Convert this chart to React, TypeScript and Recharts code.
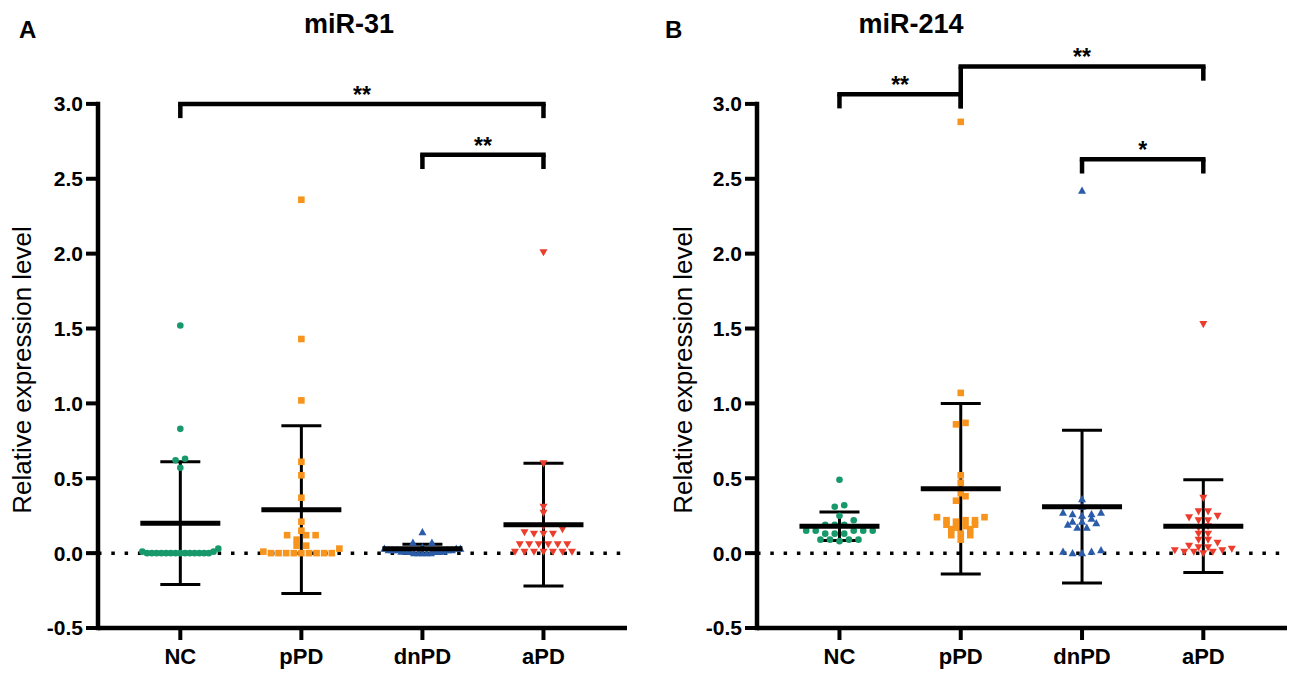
import React from 'react';
import { ScatterChart, Scatter, XAxis, YAxis, ReferenceLine, ErrorBar } from 'recharts';

const FONT = 'Liberation Sans, Arial, Helvetica, sans-serif';

const categories = ['NC', 'pPD', 'dnPD', 'aPD'];
const yTicks = [-0.5, 0, 0.5, 1, 1.5, 2, 2.5, 3];
const xTicks = [0, 1, 2, 3];
const X_DOMAIN: [number, number] = [-0.68, 3.69];
const Y_DOMAIN: [number, number] = [-0.5, 3.4];

// miR-31 (panel A)
const mir31NC = [1.52, 0.83, 0.63, 0.62, 0.57, 0.03, 0.01, 0.01, 0, 0, 0, 0, 0, 0, 0, 0, 0, 0, 0, 0, 0, 0];
const mir31pPD = [2.36, 1.43, 1.02, 0.61, 0.52, 0.37, 0.21, 0.15, 0.12, 0.12, 0.12, 0.09, 0.05, 0.05, 0.03, 0.01, 0, 0, 0, 0, 0, 0, 0, 0, 0];
const mir31dnPD = [0.14, 0.07, 0.07, 0.04, 0.03, 0.03, 0.03, 0.02, 0.02, 0.02, 0.02, 0.02, 0.01, 0.01, 0.01, 0.01, 0.01, 0.01, 0, 0, 0, 0, 0];
const mir31aPD = [2.01, 0.6, 0.31, 0.27, 0.18, 0.16, 0.14, 0.13, 0.13, 0.13, 0.06, 0.06, 0.06, 0.06, 0.06, 0.06, 0.01, 0.01, 0.01, 0.01, 0.01, 0.01, 0.01];
const mir31Mean = [0.2, 0.29, 0.03, 0.19];
const mir31SD = [0.41, 0.56, 0.03, 0.41];
const mir31Brackets = [
  { from: 0, to: 3, top: 3.0, leftEnd: 2.905, rightEnd: 2.905, label: '**' },
  { from: 2, to: 3, top: 2.66, leftEnd: 2.565, rightEnd: 2.565, label: '**' },
];

// miR-214 (panel B)
const mir214NC = [0.49, 0.32, 0.31, 0.25, 0.22, 0.19, 0.19, 0.19, 0.15, 0.15, 0.15, 0.15, 0.15, 0.13, 0.13, 0.13, 0.09, 0.09, 0.09, 0.09, 0.08];
const mir214pPD = [2.88, 1.07, 0.87, 0.86, 0.52, 0.47, 0.4, 0.38, 0.35, 0.24, 0.24, 0.22, 0.22, 0.22, 0.21, 0.19, 0.19, 0.18, 0.17, 0.16, 0.16, 0.13, 0.12, 0.12, 0.09];
const mir214dnPD = [2.42, 0.36, 0.31, 0.27, 0.27, 0.26, 0.26, 0.25, 0.23, 0.21, 0.21, 0.2, 0.19, 0.17, 0.17, 0.02, 0.01, 0.01, 0, 0];
const mir214aPD = [1.53, 0.37, 0.28, 0.28, 0.25, 0.24, 0.22, 0.22, 0.18, 0.17, 0.13, 0.13, 0.09, 0.09, 0.07, 0.05, 0.04, 0.04, 0.03, 0.02, 0.02, 0.01, 0.01, 0.01, 0];
const mir214Mean = [0.18, 0.43, 0.31, 0.18];
const mir214SD = [0.095, 0.57, 0.51, 0.31];
const mir214Brackets = [
  { from: 0, to: 1, top: 3.065, leftEnd: 2.97, rightEnd: 2.97, label: '**' },
  { from: 1, to: 3, top: 3.25, leftEnd: 2.97, rightEnd: 3.155, label: '**' },
  { from: 2, to: 3, top: 2.63, leftEnd: 2.535, rightEnd: 2.535, label: '*' },
];

const COLORS = ['#17996b', '#f7941d', '#2b5ca9', '#ec3d2c'];

const CHART_H = 683;
const M_TOP = 44;
const M_BOTTOM = 15;
const X_AXIS_H = 40;
const Y_AXIS_W = 60;
const M_RIGHT = 13;

type Pt = { x: number; y: number };

function swarm(values: number[], gi: number, pxX: number, pxY: number): Pt[] {
  const sorted = [...values].sort((a, b) => a - b);
  const clusters: number[][] = [];
  let cur: number[] = [];
  let start = 0;
  for (const v of sorted) {
    if (cur.length && (v - start) * pxY > 5.5) {
      clusters.push(cur);
      cur = [];
    }
    if (!cur.length) start = v;
    cur.push(v);
  }
  if (cur.length) clusters.push(cur);
  const pts: Pt[] = [];
  for (const c of clusters) {
    const n = c.length;
    const sp = n > 1 ? Math.min(9.5, 76 / (n - 1)) : 0;
    // centre-out ordering
    const order: number[] = [];
    for (let k = 0; k < n; k++) order.push(k);
    const slots = order.map((k) => (k - (n - 1) / 2) * sp);
    const bySlot = [...slots].sort((a, b) => Math.abs(a) - Math.abs(b));
    c.forEach((v, k) => pts.push({ x: gi + bySlot[k] / pxX, y: v }));
  }
  return pts;
}

const circleShape = (color: string) => (p: any) =>
  p.cx == null ? <g /> : <circle cx={p.cx} cy={p.cy} r={3.3} fill={color} />;
const squareShape = (color: string) => (p: any) =>
  p.cx == null ? <g /> : <rect x={p.cx - 3.3} y={p.cy - 3.3} width={6.6} height={6.6} fill={color} />;
const triUpShape = (color: string) => (p: any) =>
  p.cx == null ? (
    <g />
  ) : (
    <polygon points={`${p.cx},${p.cy - 4.2} ${p.cx - 4},${p.cy + 3} ${p.cx + 4},${p.cy + 3}`} fill={color} />
  );
const triDownShape = (color: string) => (p: any) =>
  p.cx == null ? (
    <g />
  ) : (
    <polygon points={`${p.cx},${p.cy + 4.2} ${p.cx - 4},${p.cy - 3} ${p.cx + 4},${p.cy - 3}`} fill={color} />
  );

const shapes = [circleShape(COLORS[0]), squareShape(COLORS[1]), triUpShape(COLORS[2]), triDownShape(COLORS[3])];

const meanShape = (p: any) =>
  p.cx == null ? <g /> : <line x1={p.cx - 40} x2={p.cx + 40} y1={p.cy} y2={p.cy} stroke="#000" strokeWidth={5} />;

const starShape = (p: any) =>
  p.cx == null ? (
    <g />
  ) : (
    <text x={p.cx} y={p.cy - 1} textAnchor="middle" fontSize={23} fontWeight="bold" fontFamily={FONT} fill="#000">
      {p.payload.label}
    </text>
  );

type Bracket = { from: number; to: number; top: number; leftEnd: number; rightEnd: number; label: string };

function Panel(props: {
  left: number;
  width: number;
  marginLeft: number;
  groups: number[][];
  mean: number[];
  sd: number[];
  brackets: Bracket[];
}) {
  const { left, width, marginLeft, groups, mean, sd, brackets } = props;
  const plotW = width - marginLeft - Y_AXIS_W - M_RIGHT;
  const plotH = CHART_H - M_TOP - M_BOTTOM - X_AXIS_H;
  const pxX = plotW / (X_DOMAIN[1] - X_DOMAIN[0]);
  const pxY = plotH / (Y_DOMAIN[1] - Y_DOMAIN[0]);
  const groupPts = groups.map((g, i) => swarm(g, i, pxX, pxY));
  const meanData = categories.map((c, i) => ({ x: i, y: mean[i], sd: sd[i] }));
  const starData = brackets.map((b) => ({ x: (b.from + b.to) / 2, y: b.top, label: b.label }));
  const bw = 4.5;
  return (
    <div style={{ position: 'absolute', left, top: 0 }}>
      <ScatterChart
        width={width}
        height={CHART_H}
        margin={{ top: M_TOP, right: M_RIGHT, bottom: M_BOTTOM, left: marginLeft }}
      >
        <XAxis
          type="number"
          dataKey="x"
          domain={X_DOMAIN}
          allowDataOverflow
          ticks={xTicks}
          interval={0}
          tickFormatter={(v: number) => categories[Math.round(v)] ?? ''}
          height={X_AXIS_H}
          axisLine={{ stroke: '#000', strokeWidth: 4.5 }}
          tickLine={{ stroke: '#000', strokeWidth: 4 }}
          tickSize={12}
          tickMargin={8}
          tick={{ fill: '#000', fontSize: 22, fontWeight: 'bold', fontFamily: FONT }}
        />
        <YAxis
          type="number"
          dataKey="y"
          domain={Y_DOMAIN}
          allowDataOverflow
          ticks={yTicks}
          interval={0}
          width={Y_AXIS_W}
          axisLine={false}
          tickLine={{ stroke: '#000', strokeWidth: 4 }}
          tickSize={12}
          tickMargin={3}
          tickFormatter={(v: number) => v.toFixed(1)}
          tick={{ fill: '#000', fontSize: 21, fontWeight: 'bold', fontFamily: FONT }}
        />
        <ReferenceLine
          ifOverflow="visible"
          segment={[
            { x: X_DOMAIN[0], y: -0.5 },
            { x: X_DOMAIN[0], y: 3.0 },
          ]}
          stroke="#000"
          strokeWidth={4.5}
          strokeLinecap="square"
        />
        <ReferenceLine y={0} stroke="#000" strokeWidth={3.5} strokeDasharray="3.5 9.8" />
        {brackets.map((b, i) => (
          <ReferenceLine
            key={`h${i}`}
            ifOverflow="visible"
            segment={[
              { x: b.from, y: b.top },
              { x: b.to, y: b.top },
            ]}
            stroke="#000"
            strokeWidth={bw}
            strokeLinecap="square"
          />
        ))}
        {brackets.map((b, i) => (
          <ReferenceLine
            key={`l${i}`}
            ifOverflow="visible"
            segment={[
              { x: b.from, y: b.top },
              { x: b.from, y: b.leftEnd },
            ]}
            stroke="#000"
            strokeWidth={bw}
          />
        ))}
        {brackets.map((b, i) => (
          <ReferenceLine
            key={`r${i}`}
            ifOverflow="visible"
            segment={[
              { x: b.to, y: b.top },
              { x: b.to, y: b.rightEnd },
            ]}
            stroke="#000"
            strokeWidth={bw}
          />
        ))}
        {groupPts.map((pts, i) => (
          <Scatter key={categories[i]} data={pts} shape={shapes[i]} isAnimationActive={false} />
        ))}
        <Scatter data={meanData} shape={meanShape} isAnimationActive={false}>
          <ErrorBar dataKey="sd" direction="y" width={20} stroke="#000" strokeWidth={3} />
        </Scatter>
        <Scatter data={starData} shape={starShape} isAnimationActive={false} />
      </ScatterChart>
    </div>
  );
}

export default function App() {
  return (
    <div
      style={{
        position: 'fixed',
        left: 0,
        top: 0,
        width: 1300,
        height: 683,
        background: '#fff',
        overflow: 'hidden',
        fontFamily: FONT,
      }}
    >
      <Panel
        left={0}
        width={640}
        marginLeft={38}
        groups={[mir31NC, mir31pPD, mir31dnPD, mir31aPD]}
        mean={mir31Mean}
        sd={mir31SD}
        brackets={mir31Brackets}
      />
      <Panel
        left={650}
        width={650}
        marginLeft={47}
        groups={[mir214NC, mir214pPD, mir214dnPD, mir214aPD]}
        mean={mir214Mean}
        sd={mir214SD}
        brackets={mir214Brackets}
      />
      <svg width={1300} height={683} style={{ position: 'absolute', left: 0, top: 0, pointerEvents: 'none' }}>
        <text x={19} y={38} fontSize={24} fontWeight="bold" fontFamily={FONT} fill="#000">
          A
        </text>
        <text x={665} y={38} fontSize={24} fontWeight="bold" fontFamily={FONT} fill="#000">
          B
        </text>
        <text x={349} y={33} textAnchor="middle" fontSize={27} fontWeight="bold" fontFamily={FONT} fill="#000">
          miR-31
        </text>
        <text x={911} y={33} textAnchor="middle" fontSize={27} fontWeight="bold" fontFamily={FONT} fill="#000">
          miR-214
        </text>
        <text
          transform="translate(22,370) rotate(-90)"
          textAnchor="middle"
          dominantBaseline="central"
          fontSize={26}
          fontFamily={FONT}
          fill="#000"
        >
          Relative expression level
        </text>
        <text
          transform="translate(683,370) rotate(-90)"
          textAnchor="middle"
          dominantBaseline="central"
          fontSize={26}
          fontFamily={FONT}
          fill="#000"
        >
          Relative expression level
        </text>
      </svg>
    </div>
  );
}
